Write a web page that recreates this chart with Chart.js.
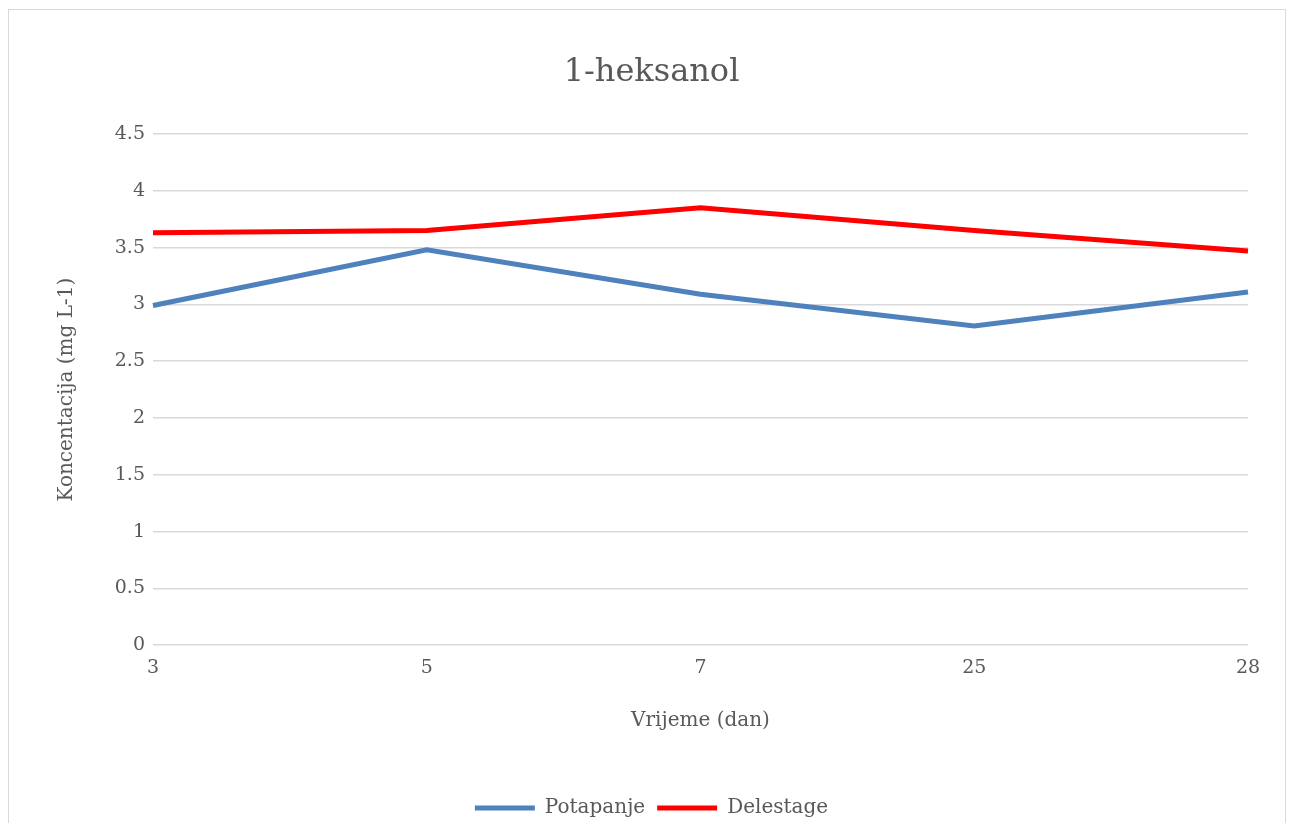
<!DOCTYPE html>
<html>
<head>
<meta charset="utf-8">
<script src="https://cdn.jsdelivr.net/npm/chart.js@4/dist/chart.umd.min.js"></script>
<style>
  html, body { margin: 0; padding: 0; background: #fff; overflow: hidden; }
  #wrap { position: relative; width: 1290px; height: 823px; }
  #frame { position: absolute; left: 8px; top: 9px; width: 1278px; height: 840px; border: 1.5px solid #d9d9d9; box-sizing: border-box; pointer-events: none; }
  canvas { position: absolute; left: 0; top: 0; }
</style>
</head>
<body>
<div id="wrap">
  <canvas id="c" width="1290" height="823"></canvas>
  <div id="frame"></div>
</div>
<script>
const categories = ['3', '5', '7', '25', '28'];
const potapanje = [2.99, 3.48, 3.09, 2.81, 3.11];
const delestage = [3.63, 3.65, 3.85, 3.65, 3.47];
const yMin = 0, yMax = 4.5, yStep = 0.5;
const titleText = '1-heksanol';
const xTitle = 'Vrijeme (dan)';
const yTitle = 'Koncentacija (mg L-1)';

const FONT = "'DejaVu Serif', 'Liberation Serif', serif";
const TXT = '#595959';

new Chart(document.getElementById('c'), {
  type: 'line',
  data: {
    labels: categories,
    datasets: [
      { label: 'Potapanje', data: potapanje, borderColor: '#4f81bd', backgroundColor: '#4f81bd', borderWidth: 5, pointRadius: 0, tension: 0 },
      { label: 'Delestage', data: delestage, borderColor: '#ff0000', backgroundColor: '#ff0000', borderWidth: 5, pointRadius: 0, tension: 0 }
    ]
  },
  options: {
    responsive: false,
    animation: false,
    devicePixelRatio: 1,
    layout: { padding: { left: 55, right: 42, top: 0, bottom: -5 } },
    plugins: {
      title: {
        display: true, text: titleText, color: TXT,
        font: { family: FONT, size: 32, weight: 'normal' },
        padding: { top: 53, bottom: 42.6 }
      },
      legend: {
        position: 'bottom',
        labels: {
          color: TXT, font: { family: FONT, size: 20 },
          boxWidth: 60, boxHeight: 5, padding: 12,
          generateLabels: (chart) => chart.data.datasets.map((ds, i) => ({
            text: ds.label, fillStyle: ds.borderColor, strokeStyle: ds.borderColor,
            lineWidth: 0, datasetIndex: i, hidden: false, fontColor: TXT
          }))
        }
      },
      tooltip: { enabled: false }
    },
    scales: {
      x: {
        offset: false,
        grid: { display: false },
        border: { display: false },
        ticks: { color: TXT, font: { family: FONT, size: 19 }, padding: 3, maxRotation: 0 },
        title: { display: true, text: xTitle, color: TXT, font: { family: FONT, size: 20 }, padding: { top: 27, bottom: 53 } }
      },
      y: {
        min: yMin, max: yMax,
        ticks: { stepSize: yStep, color: TXT, font: { family: FONT, size: 19 }, padding: 8,
                 callback: (v) => String(Math.round(v * 10) / 10) },
        grid: { color: '#d9d9d9', lineWidth: 1.5, drawTicks: false },
        border: { display: false },
        title: { display: true, text: yTitle, color: TXT, font: { family: FONT, size: 20 }, padding: { top: 0, bottom: 10 } },
        afterFit: (s) => { s.width = 98; }
      }
    }
  }
});
</script>
</body>
</html>
